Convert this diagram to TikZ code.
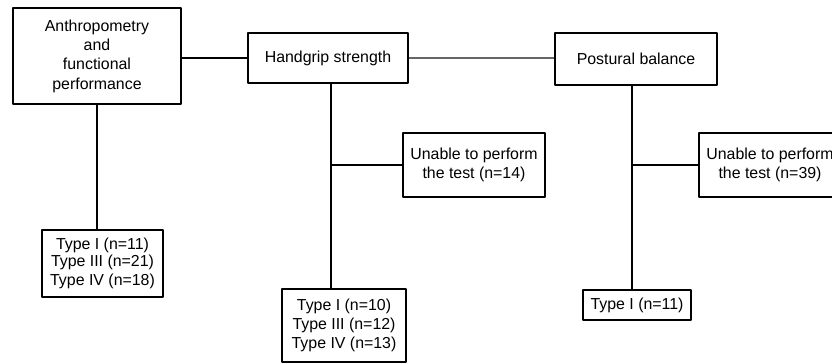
\documentclass[tikz,border=0pt]{standalone}
\usepackage{fontspec}
\setmainfont{Liberation Sans}
\usetikzlibrary{positioning}

\tikzset{
  box/.style={draw,line width=2.7pt,align=center,inner sep=0pt,
    font=\fontsize{15.9}{19.3}\selectfont},
  link/.style={line width=1.2pt},
}

\begin{document}
\begin{tikzpicture}[line cap=round,line join=round,x=1pt,y=-1pt]
\useasboundingbox (0,0) rectangle (832,363);
\clip (0,0) rectangle (832,363);
\node[box,minimum width=168,minimum height=96] (anthro) at (97,56) {Anthropometry\\and\\functional\\performance};
\node[box,minimum width=160,minimum height=50] (grip) at (328,58) {Handgrip strength};
\node[box,minimum width=162,minimum height=52] (balance) at (636,59) {Postural balance};
\node[box,minimum width=121,minimum height=67] (anthrotypes) at (102.5,263.5) {Type I (n=11)\\[-2pt]Type III (n=21)\\Type IV (n=18)};
\node[box,minimum width=142,minimum height=64] (gripunable) at (474,165) {Unable to perform\\the test (n=14)};
\node[box,minimum width=124,minimum height=73] (griptypes) at (344,325.5) {Type I (n=10)\\Type III (n=12)\\Type IV (n=13)};
\node[box,minimum width=142,minimum height=64] (balanceunable) at (770,165) {Unable to perform\\the test (n=39)};
\node[box,minimum width=108,minimum height=30] (balancetypes) at (637,305) {Type I (n=11)};
\coordinate (gripstem) at ([xshift=3pt]grip.south);
\coordinate (balancestem) at ([xshift=-4pt]balance.south);
\draw[link] (grip.west -| anthro.east) -- (grip.west);
\draw[link,black!60] (grip.east) -- (grip.east -| balance.west);
\draw[link] (anthro.south) -- (anthro.south |- anthrotypes.north);
\draw[link] (gripstem) -- (gripstem |- griptypes.north);
\draw[link] (gripstem |- gripunable.west) -- (gripunable.west);
\draw[link] (balancestem) -- (balancestem |- balancetypes.north);
\draw[link] (balancestem |- balanceunable.west) -- (balanceunable.west);
\end{tikzpicture}
\end{document}
